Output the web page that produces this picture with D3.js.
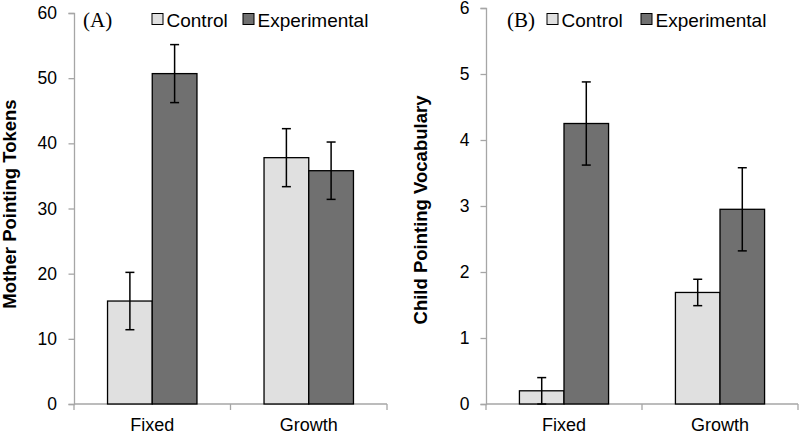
<!DOCTYPE html>
<html>
<head>
<meta charset="utf-8">
<script src="https://cdn.jsdelivr.net/npm/d3@7"></script>
<style>
  body { margin: 0; background: #fff; }
  svg { display: block; font-family: "Liberation Sans", Arial, sans-serif; }
</style>
</head>
<body>
<svg id="chart" width="800" height="434"></svg>
<script>
// data
var categories = ["Fixed", "Growth"];
var series = ["Control", "Experimental"];
var motherMeans = [[15.8, 50.7], [37.8, 35.8]];
var motherErr = [[4.4, 4.45], [4.45, 4.4]];
var childMeans = [[0.20, 4.25], [1.69, 2.95]];
var childErr = [[0.2, 0.63], [0.2, 0.63]];
var motherTicks = [0, 10, 20, 30, 40, 50, 60];
var childTicks = [0, 1, 2, 3, 4, 5, 6];
var colors = { Control: "#e0e0e0", Experimental: "#707070" };

var svg = d3.select("#chart");

function panel(opt) {
  var g = svg.append("g");
  var x0 = d3.scaleBand().domain(categories).range([opt.left, opt.right]);
  var x1 = d3.scaleBand().domain(series).range([0, x0.bandwidth()]).paddingOuter(0.75);
  var y = d3.scaleLinear().domain([0, opt.max]).range([404, opt.top]);

  // y axis
  var ya = g.append("g").attr("transform", "translate(" + opt.left + ",0)")
    .call(d3.axisLeft(y).tickValues(opt.ticks).tickFormat(d3.format("d"))
      .tickSize(5.5).tickPadding(opt.pad));
  ya.select(".domain").attr("stroke", "#a6a6a6").attr("stroke-width", 1.3);
  ya.selectAll(".tick line").attr("stroke", "#a6a6a6").attr("stroke-width", 1.3);
  ya.selectAll(".tick text").attr("font-size", 17.5).attr("fill", "#000")
    .attr("font-family", "Liberation Sans, Arial, sans-serif");

  // x axis baseline with ticks at band edges
  var xa = g.append("g");
  xa.append("line").attr("x1", opt.left).attr("x2", opt.right)
    .attr("y1", y(0)).attr("y2", y(0)).attr("stroke", "#a6a6a6").attr("stroke-width", 1.3);
  var edges = categories.map(function(c) { return x0(c); }).concat([x0(categories[categories.length - 1]) + x0.bandwidth()]);
  xa.selectAll("line.edge").data(edges).enter().append("line").attr("class", "edge")
    .attr("x1", function(d) { return d; }).attr("x2", function(d) { return d; })
    .attr("y1", y(0)).attr("y2", y(0) + 6).attr("stroke", "#a6a6a6").attr("stroke-width", 1.3);
  xa.selectAll("text").data(categories).enter().append("text")
    .attr("x", function(d) { return x0(d) + x0.bandwidth() / 2; })
    .attr("y", 431).attr("text-anchor", "middle").attr("font-size", 18)
    .text(function(d) { return d; });

  // bars
  var groups = g.selectAll("g.cat").data(categories).enter().append("g")
    .attr("transform", function(d) { return "translate(" + x0(d) + ",0)"; });
  groups.selectAll("rect").data(function(d, i) {
      return series.map(function(s, j) { return { s: s, v: opt.means[i][j], e: opt.err[i][j] }; });
    }).enter().append("rect")
    .attr("x", function(d) { return x1(d.s); })
    .attr("width", x1.bandwidth())
    .attr("y", function(d) { return y(d.v); })
    .attr("height", function(d) { return y(0) - y(d.v); })
    .attr("fill", function(d) { return colors[d.s]; })
    .attr("stroke", "#000").attr("stroke-width", 1.3);

  // error bars
  var eb = groups.selectAll("g.err").data(function(d, i) {
      return series.map(function(s, j) { return { s: s, v: opt.means[i][j], e: opt.err[i][j] }; });
    }).enter().append("g").attr("stroke", "#000").attr("stroke-width", 1.5);
  eb.append("line")
    .attr("x1", function(d) { return x1(d.s) + x1.bandwidth() / 2; })
    .attr("x2", function(d) { return x1(d.s) + x1.bandwidth() / 2; })
    .attr("y1", function(d) { return y(d.v + d.e); })
    .attr("y2", function(d) { return y(Math.max(0, d.v - d.e)); });
  [1, -1].forEach(function(k) {
    eb.append("line")
      .attr("x1", function(d) { return x1(d.s) + x1.bandwidth() / 2 - 4.5; })
      .attr("x2", function(d) { return x1(d.s) + x1.bandwidth() / 2 + 4.5; })
      .attr("y1", function(d) { return y(Math.max(0, d.v + k * d.e)); })
      .attr("y2", function(d) { return y(Math.max(0, d.v + k * d.e)); });
  });

  // y title
  g.append("text")
    .attr("transform", "translate(" + opt.titleX + "," + opt.titleY + ") rotate(-90)")
    .attr("text-anchor", "middle").attr("font-size", 18.5).attr("font-weight", "bold")
    .text(opt.title);

  // panel label and legend
  g.append("text").attr("x", opt.labelX).attr("y", 27)
    .attr("font-family", "Liberation Serif, Times New Roman, serif").attr("font-size", 21)
    .text(opt.label);
  var lg = g.selectAll("g.leg").data(series).enter().append("g")
    .attr("transform", function(d, i) { return "translate(" + opt.legendX[i] + ",0)"; });
  lg.append("rect").attr("x", 0).attr("y", 13.5).attr("width", 11).attr("height", 11)
    .attr("fill", function(d) { return colors[d]; }).attr("stroke", "#000").attr("stroke-width", 1);
  lg.append("text").attr("x", 14.5).attr("y", 26.5).attr("font-size", 19)
    .text(function(d) { return d; });
}

panel({ left: 74, right: 387, top: 13, max: 60, ticks: motherTicks, pad: 11.5,
        means: motherMeans, err: motherErr, title: "Mother Pointing Tokens",
        titleX: 15.5, titleY: 204, label: "(A)", labelX: 83, legendX: [152, 243] });
panel({ left: 486, right: 798, top: 8, max: 6, ticks: childTicks, pad: 11,
        means: childMeans, err: childErr, title: "Child Pointing Vocabulary",
        titleX: 427, titleY: 210, label: "(B)", labelX: 507, legendX: [547, 641] });
</script>
</body>
</html>
